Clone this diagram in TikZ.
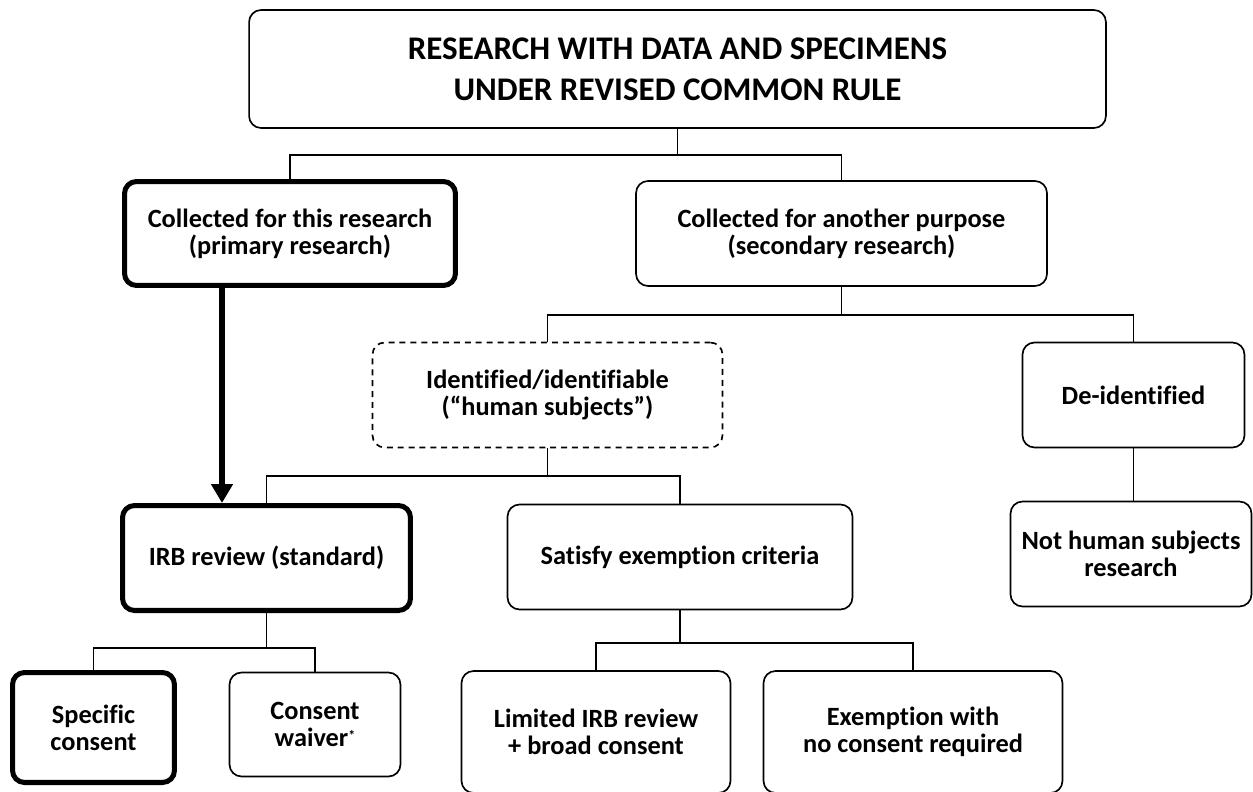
\documentclass[tikz,border=0pt]{standalone}
\usepackage{fontspec}
\setmainfont{Carlito}[Ligatures=CommonOff]
\usetikzlibrary{arrows.meta}

\begin{document}
\begin{tikzpicture}[x=0.02cm, y=-0.02cm,
    box/.style={draw, line width=0.95pt, rounded corners=0.24cm, align=center, inner sep=0pt,
        font=\fontsize{15}{15.4}\selectfont\bfseries},
    heavybox/.style={box, line width=2.85pt},
    dashbox/.style={box, dash pattern=on 3.4pt off 2.8pt},
    link/.style={line width=0.95pt},
    mainarrow/.style={line width=3.1pt, -{Triangle[length=0.38cm, width=0.42cm]}}]
    \useasboundingbox (0,0) rectangle (1253,791);

    % Top level
    \node[box, minimum width=17.14cm, minimum height=2.36cm, font=\fontsize{18.8}{23.3}\selectfont\bfseries] (rule) at (677.5,69) {RESEARCH WITH DATA AND SPECIMENS\\UNDER REVISED COMMON RULE};

    % Primary vs secondary
    \node[heavybox, minimum width=6.62cm, minimum height=2.08cm] (primary) at (290,233.5) {Collected for this research\\(primary research)};
    \node[box, minimum width=8.22cm, minimum height=2.1cm] (secondary) at (841.5,233.5) {Collected for another purpose\\(secondary research)};

    % Secondary branches
    \node[dashbox, minimum width=7.0cm, minimum height=2.1cm] (identified) at (547.5,395) {Identified/identifiable\\(“human subjects”)};
    \node[box, minimum width=4.44cm, minimum height=2.1cm] (deid) at (1133.5,395) {De-identified};

    % Review paths
    \node[heavybox, minimum width=5.76cm, minimum height=2.1cm] (irb) at (266.5,558) {IRB review (standard)};
    \node[box, minimum width=6.9cm, minimum height=2.1cm] (exempt) at (680,557) {Satisfy exemption criteria};
    \node[box, minimum width=4.82cm, minimum height=2.1cm] (nothuman) at (1131,554) {Not human subjects\\research};

    % Consent outcomes
    \node[heavybox, minimum width=3.24cm, minimum height=2.2cm] (specific) at (93.5,727.5) {Specific\\consent};
    \node[box, minimum width=3.42cm, minimum height=2.08cm] (waiver) at (315,724.5) {Consent\\waiver\raisebox{0.45ex}{\fontsize{8}{8}\selectfont *}};
    \node[box, minimum width=5.38cm, minimum height=2.44cm] (limited) at (596,732) {Limited IRB review\\+ broad consent};
    \node[box, minimum width=5.98cm, minimum height=2.44cm] (noconsent) at (913,732) {Exemption with\\no consent required};

    % Junctions
    \coordinate (j1) at (677.5,155);
    \coordinate (j2) at (841.5,315);
    \coordinate (j3) at (547.5,476);
    \coordinate (j4) at (266.5,648);
    \coordinate (j5) at (680,643);
    \coordinate (ax) at (222,0);

    % Connectors
    \draw[link] (rule) -- (j1);
    \draw[link] (primary.north) |- (j1) -| (secondary.north);
    \draw[link] (secondary) -- (j2);
    \draw[link] (identified.north) |- (j2) -| (deid.north);
    \draw[link] (deid) -- (deid.south |- nothuman.north);
    \draw[link] (identified) -- (j3);
    \draw[link] (irb.north) |- (j3) -| (exempt.north);
    \draw[link] (irb) -- (j4);
    \draw[link] (specific.north) |- (j4) -| (waiver.north);
    \draw[link] (exempt) -- (j5);
    \draw[link] (limited.north) |- (j5) -| (noconsent.north);
    \draw[mainarrow] (primary.south -| ax) -- (irb.north -| ax);
\end{tikzpicture}
\end{document}
